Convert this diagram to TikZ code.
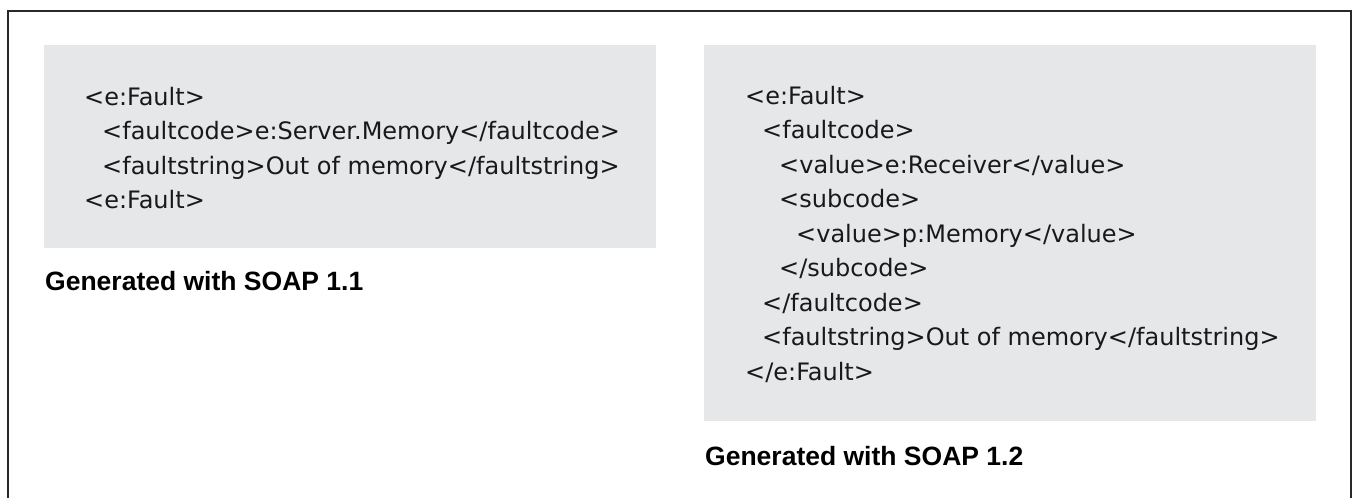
\documentclass[tikz,border=0pt]{standalone}
\usepackage{fontspec}
\newfontfamily\codefont{DejaVu Sans}
\newfontfamily\capfont{Liberation Sans}
\definecolor{codebg}{RGB}{230,231,232}
\definecolor{frameline}{RGB}{40,40,40}
\tikzset{
  codebox/.style={fill=codebg, draw=none},
  codeline/.style={anchor=base west, inner sep=0pt, font=\codefont\fontsize{24}{24}\selectfont, text=black!90},
  caption/.style={anchor=base west, inner sep=0pt, font=\capfont\bfseries\fontsize{26.5}{26.5}\selectfont, text=black}
}
\begin{document}
\begin{tikzpicture}[x=1pt,y=-1pt]
  \useasboundingbox (0,0) rectangle (1353,498);
  \clip (0,0) rectangle (1353,498);
  % outer frame (bottom edge runs past the page)
  \draw[frameline, line width=2pt] (8,11) rectangle (1351,510);

  % SOAP 1.1 fault
  \fill[codebox] (44,45) rectangle (656,248);
  \node[codeline] (a1) at (84,105)   {<e:Fault>};
  \node[codeline] (a2) at (102,139.6) {<faultcode>e:Server.Memory</faultcode>};
  \node[codeline] (a3) at (102,174.1) {<faultstring>Out of memory</faultstring>};
  \node[codeline] (a4) at (84,208.7) {<e:Fault>};
  \node[caption] (capA) at (45,290) {Generated with SOAP 1.1};

  % SOAP 1.2 fault
  \fill[codebox] (704,45) rectangle (1316,421);
  \node[codeline] (b1) at (745,104)    {<e:Fault>};
  \node[codeline] (b2) at (762,138.6)  {<faultcode>};
  \node[codeline] (b3) at (779,173.1)  {<value>e:Receiver</value>};
  \node[codeline] (b4) at (779,207.7)  {<subcode>};
  \node[codeline] (b5) at (796,242.2)  {<value>p:Memory</value>};
  \node[codeline] (b6) at (779,276.8)  {</subcode>};
  \node[codeline] (b7) at (762,311.4)  {</faultcode>};
  \node[codeline] (b8) at (762,345.9)  {<faultstring>Out of memory</faultstring>};
  \node[codeline] (b9) at (745,380.5)  {</e:Fault>};
  \node[caption] (capB) at (705,465) {Generated with SOAP 1.2};
\end{tikzpicture}
\end{document}
